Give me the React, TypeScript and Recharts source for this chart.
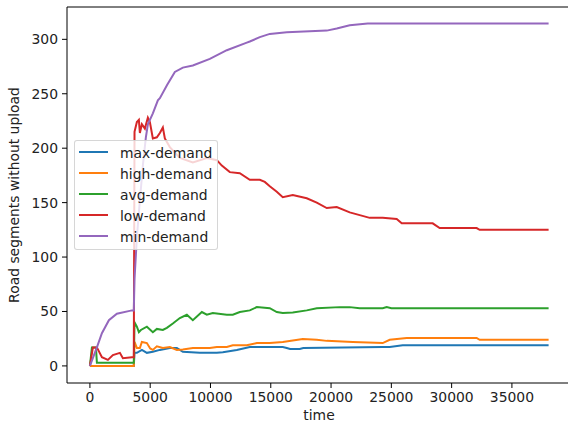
import { Line, LineChart, ReferenceLine, XAxis, YAxis } from "recharts";

// [time, segments] pairs per demand level
const maxDemand: [number, number][] = [
	[0, 0], [3640, 0], [3700, 12], [3895, 12], [4310, 14.7], [4724, 12], [5221, 13], [5802, 14.7],
	[6630, 16.5], [7211, 16.5], [7708, 13], [9117, 12], [10526, 12], [11023, 12.5], [12183, 14.7],
	[13261, 17.4], [15996, 17.4], [16327, 16.5], [16600, 15.5], [17400, 15.5], [17700, 16.5],
	[24284, 17.4], [24864, 17.4], [25942, 19], [38042, 19],
];

const highDemand: [number, number][] = [
	[0, 0], [3640, 0], [3700, 22], [3895, 16.5], [4144, 16.5], [4310, 22], [4724, 21], [5000, 16],
	[5221, 14.7], [5553, 18], [6050, 16.5], [6630, 17.4], [7211, 14.7], [7708, 15], [8537, 16.5],
	[9946, 16.5], [10526, 17.4], [11355, 17.4], [11852, 19], [13012, 19], [13841, 21], [14918, 21],
	[15996, 22], [17653, 24.8], [18814, 24], [19643, 23], [21797, 22], [24284, 21], [24864, 24],
	[26273, 25.7], [32075, 25.7], [32323, 24], [38042, 24],
];

const avgDemand: [number, number][] = [
	[0, 0], [166, 17], [500, 17], [580, 3], [3640, 3], [3700, 40], [3895, 36], [4061, 31], [4227, 33],
	[4724, 36], [5221, 31], [5553, 34], [6050, 33], [6382, 35], [6879, 39], [7459, 44], [8039, 47],
	[8537, 42], [9283, 49.5], [9697, 47], [10194, 48.6], [11355, 47], [11852, 47], [12432, 49.5],
	[13261, 51], [13841, 54], [14918, 53], [15499, 49.5], [15996, 48.6], [16825, 49], [17985, 51],
	[18814, 53], [20720, 54], [21549, 54], [22378, 53], [24284, 53], [24615, 54], [25000, 53],
	[38042, 53],
];

const lowDemand: [number, number][] = [
	[0, 0], [249, 17], [580, 17], [995, 8], [1492, 5.5], [1906, 10], [2486, 12], [2735, 7], [3481, 8],
	[3640, 8], [3700, 215], [3895, 224], [4061, 226], [4144, 214], [4310, 222], [4558, 218],
	[4807, 228], [4973, 224], [5221, 209], [5553, 210], [5802, 214], [6050, 219], [6216, 209],
	[6630, 201], [7459, 191], [8537, 187], [9697, 191], [10526, 189], [10940, 184], [11603, 178],
	[12432, 177], [13261, 171], [14090, 171], [14504, 169], [14918, 165], [15499, 160], [15996, 155],
	[16825, 157], [17985, 154], [18814, 150], [19643, 145], [20472, 146], [21549, 141], [22378, 138.5],
	[23206, 136], [24284, 136], [25444, 135], [25859, 131], [28428, 131], [29008, 126.6],
	[32075, 126.6], [32323, 125], [38042, 125],
];

const minDemand: [number, number][] = [
	[0, 0], [580, 17], [995, 30], [1575, 42], [2238, 48], [3481, 51], [3640, 51], [3700, 80],
	[3895, 118], [4144, 152], [4400, 185], [4641, 210], [4807, 222], [5221, 232], [5636, 244],
	[5802, 246], [6400, 258], [7045, 270], [7708, 274], [8537, 276], [9946, 282], [11355, 290],
	[13012, 297], [13261, 298], [14090, 302], [14918, 305], [16327, 306.5], [19643, 308],
	[20472, 310], [21549, 313], [23041, 314.5], [38042, 314.5],
];

const series = [
	{ name: "max-demand", color: "#1f77b4", points: maxDemand },
	{ name: "high-demand", color: "#ff7f0e", points: highDemand },
	{ name: "avg-demand", color: "#2ca02c", points: avgDemand },
	{ name: "low-demand", color: "#d62728", points: lowDemand },
	{ name: "min-demand", color: "#9467bd", points: minDemand },
];

const xTicks = [0, 5000, 10000, 15000, 20000, 25000, 30000, 35000];
const yTicks = [0, 50, 100, 150, 200, 250, 300];
const xDomain: [number, number] = [-1900, 39900];
const yDomain: [number, number] = [-15.7, 329.7];

const FONT = "'DejaVu Sans', sans-serif";
const FS = 13.9;
const TEXT = "#222";

export default function App() {
	return (
		<div
			style={{
				position: "fixed",
				left: 0,
				top: 0,
				width: 568,
				height: 423,
				overflow: "hidden",
				background: "#fff",
				fontFamily: FONT,
			}}
		>
			<LineChart width={580} height={423} margin={{ top: 7, right: 9, bottom: 0, left: 0 }} style={{ fontFamily: FONT }}>
				<XAxis
					dataKey="t"
					type="number"
					domain={xDomain}
					ticks={xTicks}
					allowDataOverflow
					height={40}
					tickSize={5}
					tickMargin={4}
					stroke="#000"
					tick={{ fill: TEXT, fontSize: FS }}
					label={{
						content: () => (
							<text x={319} y={420} textAnchor="middle" fill={TEXT} fontSize={FS} fontFamily={FONT}>
								time
							</text>
						),
					}}
				/>
				<YAxis
					type="number"
					domain={yDomain}
					ticks={yTicks}
					allowDataOverflow
					width={67}
					tickSize={5}
					tickMargin={4}
					stroke="#000"
					tick={{ fill: TEXT, fontSize: FS }}
					label={{
						content: () => (
							<text
								x={14}
								y={195}
								transform="rotate(-90 14 195)"
								textAnchor="middle"
								dominantBaseline="central"
								fill={TEXT}
								fontSize={FS}
								fontFamily={FONT}
							>
								Road segments without upload
							</text>
						),
					}}
				/>
				<ReferenceLine y={yDomain[1]} stroke="#000" />
				<ReferenceLine x={xDomain[1]} stroke="#000" />
				{series.map((s) => (
					<Line
						key={s.name}
						name={s.name}
						data={s.points.map(([t, v]) => ({ t, v }))}
						dataKey="v"
						type="linear"
						stroke={s.color}
						strokeWidth={2}
						dot={false}
						activeDot={false}
						isAnimationActive={false}
					/>
				))}
			</LineChart>
			<div
				style={{
					position: "absolute",
					left: 74,
					top: 140,
					width: 144,
					height: 110,
					boxSizing: "border-box",
					background: "rgba(255,255,255,0.8)",
					border: "1px solid rgba(204,204,204,0.8)",
					borderRadius: 3,
				}}
			>
				{series.map((s, i) => (
					<div
						key={s.name}
						style={{
							position: "absolute",
							left: 0,
							top: 11 + i * 21 - 10,
							height: 20,
							display: "flex",
							alignItems: "center",
						}}
					>
						<div style={{ position: "absolute", left: 4, top: 9, width: 29, height: 2, background: s.color }} />
						<span
							style={{
								position: "absolute",
								left: 45,
								top: 1,
								lineHeight: "20px",
								fontSize: FS,
								color: TEXT,
								whiteSpace: "nowrap",
							}}
						>
							{s.name}
						</span>
					</div>
				))}
			</div>
		</div>
	);
}
